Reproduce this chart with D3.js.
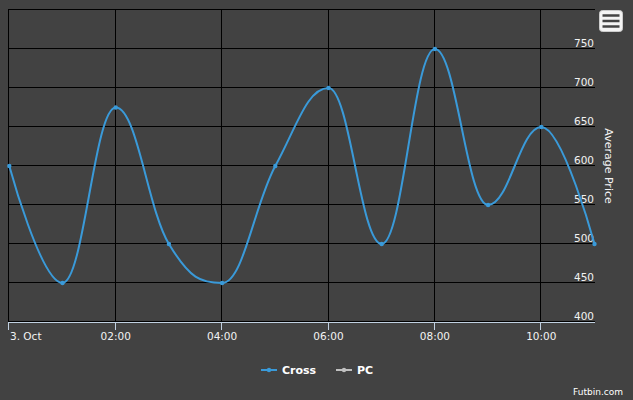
<!DOCTYPE html>
<html><head><meta charset="utf-8">
<script src="https://cdn.jsdelivr.net/npm/d3@7/dist/d3.min.js"></script>
<style>html,body{margin:0;padding:0;background:#424242;}svg{display:block;}</style>
</head><body>
<svg id="c" width="633" height="400"></svg>
<script>
// ---- data ----
const hours = [0,1,2,3,4,5,6,7,8,9,10,11];
const crossValues = [600,450,675,500,450,600,700,500,750,550,650,500];
const pcValues = [];
const xTickHours = [0,2,4,6,8,10];
const xTickLabels = ["3. Oct","02:00","04:00","06:00","08:00","10:00"];
const yTicks = [400,450,500,550,600,650,700,750,800];
const yTickLabels = ["400","450","500","550","600","650","700","750",""];
const seriesNames = ["Cross","PC"];
const seriesColors = ["#3a9ad9","#c0c0c0"];

const W=633,H=400, L=9, R=595, T=10, B=322;
const svg=d3.select("#c");
svg.append("rect").attr("width",W).attr("height",H).attr("fill","#424242");

const x=d3.scaleLinear().domain([0,11]).range([L+0.3,R-0.5]);
const y=d3.scaleLinear().domain([400,800]).range([B,T]);
const crisp=v=>Math.round(v)+0.5;
const txt="#F2F2F2", font="'DejaVu Sans', sans-serif";

// grid
svg.append("g").selectAll("line").data(yTicks).join("line")
  .attr("x1",L).attr("x2",R).attr("y1",d=>crisp(y(d))-1).attr("y2",d=>crisp(y(d))-1)
  .attr("stroke","#000").attr("stroke-width",1);
svg.append("g").selectAll("line").data(xTickHours).join("line")
  .attr("x1",d=>crisp(x(d))-1).attr("x2",d=>crisp(x(d))-1).attr("y1",T-1).attr("y2",B)
  .attr("stroke","#000").attr("stroke-width",1);

// y labels
svg.append("g").selectAll("text").data(yTicks).join("text")
  .attr("x",594).attr("y",d=>y(d)-2.5).attr("text-anchor","end")
  .attr("font-family",font).attr("font-size","10.5px").attr("fill",txt)
  .text((d,i)=>yTickLabels[i]);

// y title
svg.append("text").attr("transform","translate(605,166) rotate(90)")
  .attr("text-anchor","middle").attr("font-family",font).attr("font-size","11px")
  .attr("fill",txt).text("Average Price");

// x axis line and ticks
svg.append("line").attr("x1",L).attr("x2",R).attr("y1",B+0.5).attr("y2",B+0.5)
  .attr("stroke","#C0D0E0").attr("stroke-width",1);
svg.append("g").selectAll("line").data(xTickHours).join("line")
  .attr("x1",d=>crisp(x(d))-1).attr("x2",d=>crisp(x(d))-1).attr("y1",B).attr("y2",B+8)
  .attr("stroke","#C0D0E0").attr("stroke-width",1);
svg.append("g").selectAll("text").data(xTickHours).join("text")
  .attr("x",(d,i)=> i===0 ? 10 : x(d)).attr("y",340)
  .attr("text-anchor",(d,i)=> i===0 ? "start":"middle")
  .attr("font-family",font).attr("font-size","10.5px").attr("fill",txt)
  .text((d,i)=>xTickLabels[i]);

// Highcharts-like spline curve
function HCSpline(ctx){this._context=ctx;}
HCSpline.prototype={
  areaStart(){},areaEnd(){},
  lineStart(){this._p=[];},
  point(px,py){this._p.push([+px,+py]);},
  lineEnd(){
    const p=this._p, n=p.length, c=this._context, sm=1.5, den=sm+1;
    if(!n) return;
    const lc=[],rc=[];
    for(let i=0;i<n;i++){
      if(i>0&&i<n-1){
        const [lx,ly]=p[i-1],[px,py]=p[i],[nx,ny]=p[i+1];
        let lcx=(sm*px+lx)/den, lcy=(sm*py+ly)/den, rcx=(sm*px+nx)/den, rcy=(sm*py+ny)/den;
        const corr=((rcy-lcy)*(rcx-px))/(rcx-lcx)+py-rcy;
        lcy+=corr; rcy+=corr;
        if(lcy>ly&&lcy>py){lcy=Math.max(ly,py);rcy=2*py-lcy;}
        else if(lcy<ly&&lcy<py){lcy=Math.min(ly,py);rcy=2*py-lcy;}
        if(rcy>ny&&rcy>py){rcy=Math.max(ny,py);lcy=2*py-rcy;}
        else if(rcy<ny&&rcy<py){rcy=Math.min(ny,py);lcy=2*py-rcy;}
        lc[i]=[lcx,lcy]; rc[i]=[rcx,rcy];
      } else { lc[i]=p[i]; rc[i]=p[i]; }
    }
    c.moveTo(p[0][0],p[0][1]);
    for(let i=1;i<n;i++) c.bezierCurveTo(rc[i-1][0],rc[i-1][1],lc[i][0],lc[i][1],p[i][0],p[i][1]);
  }
};
const curveHC=ctx=>new HCSpline(ctx);

const pts=hours.map((h,i)=>({h,v:crossValues[i]}));
svg.append("path").datum(pts)
  .attr("d",d3.line().x(d=>x(d.h)).y(d=>y(d.v)).curve(curveHC))
  .attr("fill","none").attr("stroke",seriesColors[0]).attr("stroke-width",2)
  .attr("stroke-linejoin","round").attr("stroke-linecap","round");
svg.append("g").selectAll("circle").data(pts).join("circle")
  .attr("cx",d=>x(d.h)).attr("cy",d=>y(d.v)).attr("r",2.2).attr("fill",seriesColors[0]);

// legend
const legX=[261,336], legTX=[282,357];
const lg=svg.append("g");
seriesNames.forEach((nm,i)=>{
  lg.append("line").attr("x1",legX[i]).attr("x2",legX[i]+16).attr("y1",370).attr("y2",370)
    .attr("stroke",seriesColors[i]).attr("stroke-width",2);
  lg.append("circle").attr("cx",legX[i]+8).attr("cy",370).attr("r",2.2).attr("fill",seriesColors[i]);
  lg.append("text").attr("x",legTX[i]).attr("y",374).attr("font-family",font)
    .attr("font-size","11px").attr("font-weight","bold").attr("fill","#FFFFFF").text(nm);
});

// credits
svg.append("text").attr("x",623).attr("y",395).attr("text-anchor","end")
  .attr("font-family",font).attr("font-size","9px").attr("fill","#FFFFFF").text("Futbin.com");

// context menu button
const mb=svg.append("g");
mb.append("rect").attr("x",599.5).attr("y",10.5).attr("width",23).attr("height",21).attr("rx",3)
  .attr("fill","#F4F4F4").attr("stroke","#CCCCCC").attr("stroke-width",1);
[15.5,21,26.5].forEach(yy=>mb.append("line").attr("x1",602.5).attr("x2",619.5)
  .attr("y1",yy).attr("y2",yy).attr("stroke","#444").attr("stroke-width",2.5));
</script>
</body></html>
